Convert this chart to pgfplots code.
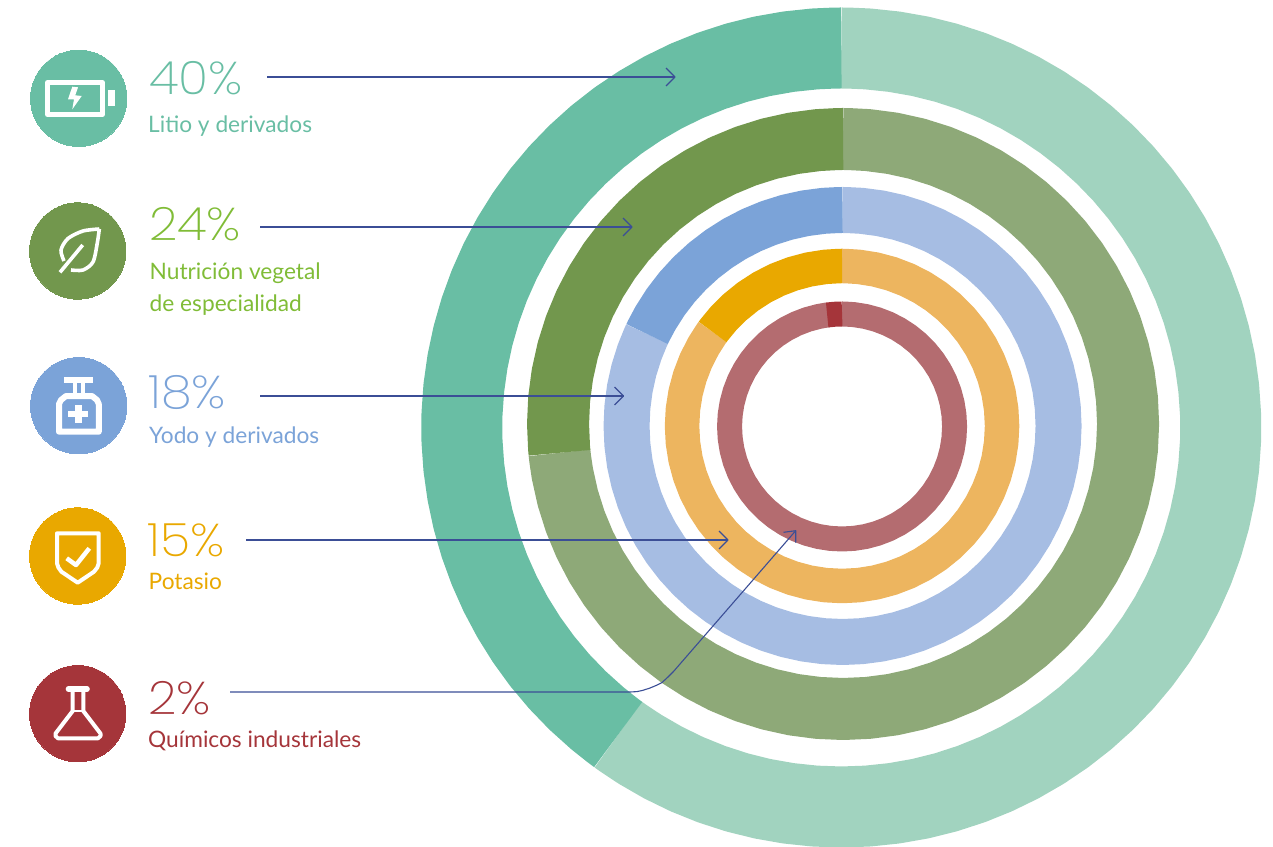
\documentclass[border=0pt]{standalone}
\usepackage{fontspec}
\setmainfont{Lato}
\newfontfamily\numf[FakeStretch=1.08]{Poppins ExtraLight}
\usepackage{pgfplots}
\pgfplotsset{compat=1.18}
\definecolor{teald}{HTML}{69BEA4}\definecolor{teall}{HTML}{A1D3BF}
\definecolor{greend}{HTML}{72974D}\definecolor{greenl}{HTML}{8EA978}
\definecolor{blued}{HTML}{7BA3D8}\definecolor{bluel}{HTML}{A6BDE3}
\definecolor{orad}{HTML}{E9A800}\definecolor{oral}{HTML}{EDB55F}
\definecolor{redd}{HTML}{A5353A}\definecolor{redl}{HTML}{B46C70}
\definecolor{greent}{HTML}{80BC37}
\definecolor{arrowc}{HTML}{3B4E96}
\pgfplotsset{
  canvas/.style={scale only axis, width=1273pt, height=846pt, hide axis,
    anchor=south west, at={(0,0)}},
  ring/.style={no markers, line cap=butt, line join=round},
  ptr/.style={no markers, draw=arrowc, line width=1.1pt, line join=round},
  ico/.style={no markers, draw=white, line join=round, line cap=butt},
  dot/.style={only marks, mark=*, mark size=48.2pt, mark options={draw=#1, fill=#1, line width=0pt}},
}
\newcommand{\pct}[4]{\node[anchor=base west, inner sep=0pt, text=#3] at (axis cs:#1,#2) {\numf\fontsize{46}{46}\selectfont #4};}
\newcommand{\lab}[4]{\node[anchor=base west, inner sep=0pt, text=#3] at (axis cs:#1,#2) {\fontsize{22.7}{22.7}\selectfont #4};}
\begin{document}
\begin{tikzpicture}
\path[use as bounding box] (0,0) rectangle (1273pt,846pt);
% rings: (angle, mid radius), centre at the origin, start at the top and run counter-clockwise
\begin{axis}[canvas, data cs=polar, xmin=-842, xmax=431, ymin=-419, ymax=427]
\addplot[ring, draw=teall, line width=81pt, xshift=-0.8pt, yshift=-0.5pt] table {
 90 379.5
 89 379.5
 86 379.5
 82 379.5
 78 379.5
 74 379.5
 70 379.5
 66 379.5
 62 379.5
 58 379.5
 54 379.5
 50 379.5
 46 379.5
 42 379.5
 38 379.5
 34 379.5
 30 379.5
 26 379.5
 22 379.5
 18 379.5
 14 379.5
 10 379.5
 6 379.5
 2 379.5
 -2 379.5
 -6 379.5
 -10 379.5
 -14 379.5
 -18 379.5
 -22 379.5
 -26 379.5
 -30 379.5
 -34 379.5
 -38 379.5
 -42 379.5
 -46 379.5
 -50 379.5
 -54 379.5
 -58 379.5
 -62 379.5
 -66 379.5
 -70 379.5
 -74 379.5
 -78 379.5
 -82 379.5
 -86 379.5
 -90 379.5
 -94 379.5
 -98 379.5
 -102 379.5
 -106 379.5
 -110 379.5
 -114 379.5
 -118 379.5
 -122 379.5
 -125 379.5
 -126 379.5
};
\addplot[ring, draw=teald, line width=81pt, xshift=-0.8pt, yshift=-0.5pt] table {
 90 379.5
 91 379.5
 94 379.5
 98 379.5
 102 379.5
 106 379.5
 110 379.5
 114 379.5
 118 379.5
 122 379.5
 126 379.5
 130 379.5
 134 379.5
 138 379.5
 142 379.5
 146 379.5
 150 379.5
 154 379.5
 158 379.5
 162 379.5
 166 379.5
 170 379.5
 174 379.5
 178 379.5
 182 379.5
 186 379.5
 190 379.5
 194 379.5
 198 379.5
 202 379.5
 206 379.5
 210 379.5
 214 379.5
 218 379.5
 222 379.5
 226 379.5
 230 379.5
 233 379.5
 234 379.5
};
\addplot[ring, draw=greenl, line width=62pt, xshift=1pt, yshift=3pt] coordinates {
 (90,285)(89,285)(85,285)(80,285)(75,285)(70,285)(65,285)(60,285)(55,285)(50,285)(45,285)(40,285)(35,285)(30,285)(25,285)(20,285)(15,285)(10,285)(5,285)(0,285)(-5,285)(-10,285)(-15,285)(-20,285)(-25,285)(-30,285)(-35,285)(-40,285)(-45,285)(-50,285)(-55,285)(-60,285)(-65,285)(-70,285)(-75,285)(-80,285)(-85,285)(-90,285)(-95,285)(-100,285)(-105,285)(-110,285)(-115,285)(-120,285)(-125,285)(-130,285)(-135,285)(-140,285)(-145,285)(-150,285)(-155,285)(-160,285)(-165,285)(-170,285)(-173,285)(-174.2,285)};
\addplot[ring, draw=greend, line width=62pt, xshift=1pt, yshift=3pt] coordinates {
 (90,285)(91,285)(95,285)(100,285)(105,285)(110,285)(115,285)(120,285)(125,285)(130,285)(135,285)(140,285)(145,285)(150,285)(155,285)(160,285)(165,285)(170,285)(175,285)(180,285)(184.8,285)(185.8,285)};
\addplot[ring, draw=bluel, line width=46pt, xshift=0.5pt, yshift=1pt] coordinates {
 (90,216)(89,216)(85,216)(80,216)(75,216)(70,216)(65,216)(60,216)(55,216)(50,216)(45,216)(40,216)(35,216)(30,216)(25,216)(20,216)(15,216)(10,216)(5,216)(0,216)(-5,216)(-10,216)(-15,216)(-20,216)(-25,216)(-30,216)(-35,216)(-40,216)(-45,216)(-50,216)(-55,216)(-60,216)(-65,216)(-70,216)(-75,216)(-80,216)(-85,216)(-90,216)(-95,216)(-100,216)(-105,216)(-110,216)(-115,216)(-120,216)(-125,216)(-130,216)(-135,216)(-140,216)(-145,216)(-150,216)(-155,216)(-160,216)(-165,216)(-170,216)(-175,216)(-180,216)(-185,216)(-190,216)(-195,216)(-200,216)(-204.2,216)(-205.2,216)};
\addplot[ring, draw=blued, line width=46pt, xshift=0.5pt, yshift=1pt] coordinates {
 (90,216)(91,216)(95,216)(100,216)(105,216)(110,216)(115,216)(120,216)(125,216)(130,216)(135,216)(140,216)(145,216)(150,216)(153.8,216)(154.8,216)};
\addplot[ring, draw=oral, line width=34.5pt, yshift=1pt] coordinates {
 (90,160)(89,160)(84,160)(78,160)(72,160)(66,160)(60,160)(54,160)(48,160)(42,160)(36,160)(30,160)(24,160)(18,160)(12,160)(6,160)(0,160)(-6,160)(-12,160)(-18,160)(-24,160)(-30,160)(-36,160)(-42,160)(-48,160)(-54,160)(-60,160)(-66,160)(-72,160)(-78,160)(-84,160)(-90,160)(-96,160)(-102,160)(-108,160)(-114,160)(-120,160)(-126,160)(-132,160)(-138,160)(-144,160)(-150,160)(-156,160)(-162,160)(-168,160)(-174,160)(-180,160)(-186,160)(-192,160)(-198,160)(-204,160)(-210,160)(-215,160)(-216,160)};
\addplot[ring, draw=orad, line width=34.5pt, yshift=1pt] coordinates {
 (90,160)(91,160)(96,160)(102,160)(108,160)(114,160)(120,160)(126,160)(132,160)(138,160)(143,160)(144,160)};
\addplot[ring, draw=redl, line width=25pt, yshift=0.5pt] coordinates {
 (90,112.5)(89,112.5)(84,112.5)(78,112.5)(72,112.5)(66,112.5)(60,112.5)(54,112.5)(48,112.5)(42,112.5)(36,112.5)(30,112.5)(24,112.5)(18,112.5)(12,112.5)(6,112.5)(0,112.5)(-6,112.5)(-12,112.5)(-18,112.5)(-24,112.5)(-30,112.5)(-36,112.5)(-42,112.5)(-48,112.5)(-54,112.5)(-60,112.5)(-66,112.5)(-72,112.5)(-78,112.5)(-84,112.5)(-90,112.5)(-96,112.5)(-102,112.5)(-108,112.5)(-114,112.5)(-120,112.5)(-126,112.5)(-132,112.5)(-138,112.5)(-144,112.5)(-150,112.5)(-156,112.5)(-162,112.5)(-168,112.5)(-174,112.5)(-180,112.5)(-186,112.5)(-192,112.5)(-198,112.5)(-204,112.5)(-210,112.5)(-216,112.5)(-222,112.5)(-228,112.5)(-234,112.5)(-240,112.5)(-246,112.5)(-252,112.5)(-258,112.5)(-262,112.5)(-262.8,112.5)};
\addplot[ring, draw=redd, line width=25pt, yshift=0.5pt] coordinates {
 (90,112.5)(93.8,112.5)(97.6,112.5)};
\end{axis}
% legend and pointers, in pixels of the reference
\begin{axis}[canvas, xmin=0, xmax=1273, ymin=0, ymax=846, y dir=reverse, clip=false, clip mode=individual]
\addplot[dot=teald] coordinates {(78.7,98.3)};
\addplot[dot=greend] coordinates {(77.7,251)};
\addplot[dot=blued] coordinates {(78.7,405.7)};
\addplot[dot=orad] coordinates {(77.7,556)};
\addplot[dot=redd] coordinates {(77.7,713.7)};
% pointers
\addplot[ptr] coordinates {(267,77)(675,77)};
\addplot[ptr] coordinates {(666,68)(675,77)(666,86)};
\addplot[ptr] coordinates {(260,227)(632,227)};
\addplot[ptr] coordinates {(623,218)(632,227)(623,236)};
\addplot[ptr] coordinates {(260,396)(623.5,396)};
\addplot[ptr] coordinates {(614.5,387)(623.5,396)(614.5,405)};
\addplot[ptr] coordinates {(246,540)(728,540)};
\addplot[ptr] coordinates {(719,531)(728,540)(719,549)};
\addplot[ptr] coordinates {(230,692)(630,692)(637,691.6)(643,690.3)(650,688)(656,685.5)(662,682.5)(668,677)(673.5,671.5)(680,664)(795.7,530.7)};
\addplot[ptr] coordinates {(783.5,532.3)(795.7,530.7)(795.7,542.7)};
% battery
\addplot[ico, line width=5pt] coordinates {(47.5,82.5)(102.2,82.5)(102.2,114.5)(47.5,114.5)(47.5,82.5)(102.2,82.5)};
\addplot[ico, line width=6.7pt] coordinates {(111.7,90)(111.7,106)};
\addplot[fill=white, draw=none, no markers] coordinates {(72.3,86.7)(68,99.3)(74,99.3)(72.3,109.3)(81.7,96)(75.3,95.3)(78,87.3)};
% leaf
\addplot[ico, line width=3.6pt, smooth] coordinates {(99.3,229)(83,231)(68,238.5)(61,250)(64,261)};
\addplot[ico, line width=3.6pt, smooth] coordinates {(99.3,229)(97.3,243)(93,262)(83,270)(71,270)};
\addplot[ico, line width=3.6pt] coordinates {(60,272.3)(82.7,245)};
% bottle
\addplot[ico, line width=6pt] coordinates {(64,380.3)(93.3,380.3)};
\addplot[ico, line width=4.7pt] coordinates {(75,383)(75,396)};
\addplot[ico, line width=4.7pt] coordinates {(83,383)(83,396)};
\addplot[ico, line width=6pt] coordinates {(59,431.7)(59,404)(61,400)(66,396)(92,396)(97,400)(98.8,404)(98.8,431.7)(59,431.7)(59,404)};
\addplot[ico, line width=6.6pt] coordinates {(68.3,414)(88.3,414)};
\addplot[ico, line width=6.6pt] coordinates {(78.3,405)(78.3,422.7)};
% shield
\addplot[ico, line width=4pt] coordinates {(57,533.3)(98.7,533.3)(98.7,563.3)(97.3,567.5)(94,571.7)(77.7,582.7)(61.4,571.7)(58.4,567.5)(57,563.3)(57,533.3)(98.7,533.3)};
\addplot[ico, line width=4.5pt] coordinates {(66.7,558.3)(76,565)(89.3,548.3)};
% flask
\addplot[ico, line width=5.6pt, line cap=round] coordinates {(68.5,689)(87,689)};
\addplot[ico, line width=4pt] coordinates {(72.7,691)(72.7,711)(55.5,733.5)(55.5,736)(58,738.3)(98,738.3)(100.5,736)(100.5,733.5)(83.3,711)(83.3,691)};
\addplot[ico, line width=2.5pt] coordinates {(72,711)(84,711)};
% text
\pct{149}{94}{teald}{40\%}
\lab{148}{132.4}{teald}{Litio y derivados}
\pct{149}{240}{greent}{24\%}
\lab{149.5}{279.3}{greent}{Nutrición vegetal}
\lab{149.5}{311.7}{greent}{de especialidad}
\pct{148}{408.3}{blued}{18\%}
\lab{149}{443.7}{blued}{Yodo y derivados}
\pct{147}{556}{orad}{15\%}
\lab{148.5}{589}{orad}{Potasio}
\pct{148}{714}{redd}{2\%}
\lab{148}{747.7}{redd}{Químicos industriales}
\end{axis}
\end{tikzpicture}
\end{document}
